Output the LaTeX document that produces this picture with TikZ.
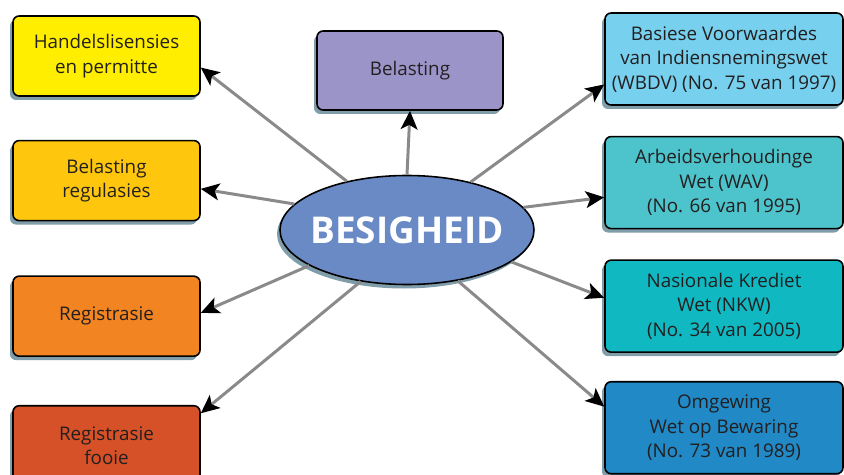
\documentclass[tikz,border=0pt]{standalone}
\usepackage{fontspec}
\setmainfont{Open Sans}
\usepackage{tikz}
\usetikzlibrary{arrows.meta, positioning, shapes, shadows}

\definecolor{cYellow}{HTML}{FFEE00}
\definecolor{cGold}{HTML}{FEC70E}
\definecolor{cOrange}{HTML}{F28422}
\definecolor{cRed}{HTML}{D65127}
\definecolor{cPurple}{HTML}{9B94C8}
\definecolor{cHub}{HTML}{6A8AC6}
\definecolor{cSky}{HTML}{76D0EE}
\definecolor{cTeal}{HTML}{4DC3CB}
\definecolor{cCyan}{HTML}{10B9C2}
\definecolor{cBlue}{HTML}{2089C6}
\definecolor{cShadow}{HTML}{809DAA}
\definecolor{cLine}{HTML}{8A8A8C}
\definecolor{cText}{HTML}{231F20}

\tikzstyle{box} = [rectangle, rounded corners=3.5pt, draw=black, line width=0.9pt, align=center, text=cText,
  font=\fontsize{10.7pt}{14pt}\selectfont,
  drop shadow={shadow xshift=-0.06cm, shadow yshift=-0.08cm, opacity=1, fill=cShadow}]
\tikzstyle{lbox} = [box, minimum width=3.74cm, minimum height=1.6cm]
\tikzstyle{rbox} = [box, minimum width=4.76cm, minimum height=1.84cm, inner sep=1pt]
\tikzstyle{hub} = [ellipse, draw=black, line width=0.9pt, fill=cHub, text=white, inner ysep=0pt, inner xsep=-0.3cm,
  minimum width=5.08cm, minimum height=2.18cm, font=\fontsize{21pt}{24pt}\selectfont\bfseries,
  drop shadow={shadow xshift=-0.06cm, shadow yshift=-0.08cm, opacity=1, fill=cShadow}]
\tikzstyle{arrow} = [line width=1.7pt, draw=cLine, -{Stealth[black, length=10.5pt, width=9.5pt, inset=2.5pt]}]

\begin{document}
\begin{tikzpicture}
\useasboundingbox (0,0) rectangle (16.88,-9.5);

% centre
\node(bes)[hub] at (8.14,-4.6) {BESIGHEID};

% left column
\node(hl)[lbox, fill=cYellow] at (2.13,-1.12) {Handelslisensies\\en permitte};
\node(br)[lbox, fill=cGold, below = 0.86cm of hl] {Belasting\\regulasies};
\node(reg)[lbox, fill=cOrange, below = 1.08cm of br] {Registrasie};
\node(rf)[lbox, fill=cRed, below = 0.96cm of reg] {Registrasie\\fooie};

% top
\node(bel)[lbox, minimum width=3.72cm, minimum height=1.58cm, fill=cPurple] at (8.2,-1.41) {Belasting};

% right column
\node(r1)[rbox, fill=cSky] at (14.48,-1.18) {Basiese Voorwaardes\\van Indiensnemingswet\\(WBDV) (No. 75 van 1997)};
\node(r2)[rbox, fill=cTeal, below = 0.6cm of r1] {Arbeidsverhoudinge\\Wet (WAV)\\(No. 66 van 1995)};
\node(r3)[rbox, fill=cCyan, below = 0.6cm of r2] {Nasionale Krediet\\Wet (NKW)\\(No. 34 van 2005)};
\node(r4)[rbox, fill=cBlue, below = 0.56cm of r3] {Omgewing\\Wet op Bewaring\\(No. 73 van 1989)};

\draw [arrow] (bes.141) -- (hl.-7);
\draw [arrow] (bes.167) -- (br.-5);
\draw [arrow] (bes.200) -- (reg.2);
\draw [arrow] (bes.228) -- (rf.19);
\draw [arrow] (bes.90) -- (bel.south);
\draw [arrow] (bes.37) -- (r1.192);
\draw [arrow] (bes.11) -- (r2.187);
\draw [arrow] (bes.-17) -- (r3.176);
\draw [arrow] (bes.-45) -- (r4.170);

\end{tikzpicture}
\end{document}
